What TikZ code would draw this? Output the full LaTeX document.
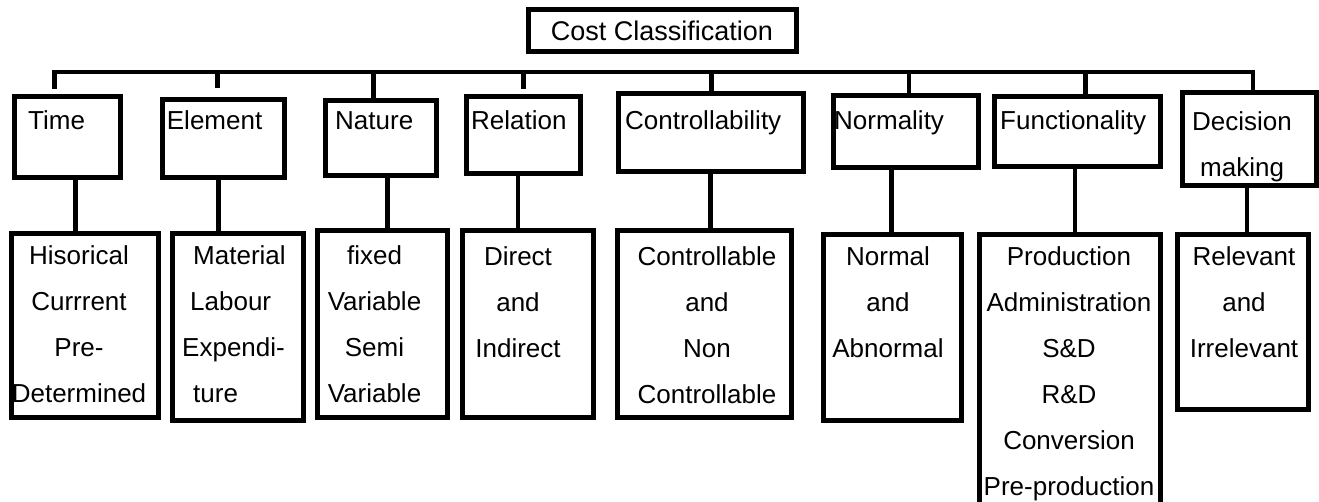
\documentclass[tikz,border=0pt]{standalone}
\usepackage{fontspec}
\setmainfont{Liberation Sans}
\usepackage{tikz}

\begin{document}
\begin{tikzpicture}[
  x=1pt, y=-1pt,
  box/.style={draw, line width=5pt, inner sep=0pt},
  link/.style={line width=4.5pt},
  txt/.style={font=\fontsize{26}{46}\selectfont, inner sep=0pt},
  head/.style={txt, anchor=base west},
  items/.style={txt, anchor=north, align=center}
]
  \useasboundingbox (0,0) rectangle (1319,502);

  % Root
  \node[box, font=\fontsize{27}{32}\selectfont, minimum width=268, minimum height=42] (cost) at (662,31) {Cost Classification};

  % Bases of classification
  \node[box, minimum width=106, minimum height=80.5] (time) at (67,137) {};
  \node[box, minimum width=121.5, minimum height=78] (element) at (223.3,139) {};
  \node[box, minimum width=111, minimum height=75] (nature) at (381,138.5) {};
  \node[box, minimum width=114, minimum height=77] (relation) at (523,135.5) {};
  \node[box, minimum width=185.5, minimum height=78.5] (control) at (710.8,132.3) {};
  \node[box, minimum width=144.5, minimum height=72] (normality) at (905.8,132) {};
  \node[box, minimum width=166, minimum height=70.5] (function) at (1077,131.3) {};
  \node[box, minimum width=134, minimum height=93] (decision) at (1249,139.5) {};

  \node[head] (time-lbl) at (28,130) {Time};
  \node[head] (element-lbl) at (166.7,130) {Element};
  \node[head] (nature-lbl) at (335,130) {Nature};
  \node[head] (relation-lbl) at (471,130) {Relation};
  \node[head] (control-lbl) at (625,130) {Controllability};
  \node[head] (normality-lbl) at (834,130) {Normality};
  \node[head] (function-lbl) at (1000,130) {Functionality};
  \node[txt, anchor=north west, align=left] (decision-lbl) at (1192,111) {Decision\\\hspace{8pt}making};

  % Types of cost
  \node[box, minimum width=147.5, minimum height=183] (time-sub) at (84.8,325.5) {};
  \node[box, minimum width=131, minimum height=186] (element-sub) at (237.5,327) {};
  \node[box, minimum width=130.5, minimum height=186] (nature-sub) at (382.3,324) {};
  \node[box, minimum width=131, minimum height=186] (relation-sub) at (527.5,324) {};
  \node[box, minimum width=174, minimum height=186] (control-sub) at (704,324) {};
  \node[box, minimum width=137.5, minimum height=185] (normality-sub) at (892.3,327.5) {};
  \node[box, minimum width=181, minimum height=271] (function-sub) at (1069.5,370.5) {};
  \node[box, minimum width=130.5, minimum height=174] (decision-sub) at (1242.8,322) {};

  \node[items] (time-items) at (79,245) {Hisorical\\Currrent\\Pre-\\Determined};
  \node[txt, anchor=north west, align=left] (element-items) at (182,245)
    {\hspace{11pt}Material\\\hspace{8pt}Labour\\Expendi-\\\hspace{11pt}ture};
  \node[items] (nature-items) at (374.5,245) {fixed\\Variable\\Semi\\Variable};
  \node[items] (relation-items) at (518,246) {Direct\\and\\Indirect};
  \node[items] (control-items) at (707,246) {Controllable\\and\\Non\\Controllable};
  \node[items] (normality-items) at (888,246) {Normal\\and\\Abnormal};
  \node[items] (function-items) at (1069,246)
    {Production\\Administration\\S\&D\\R\&D\\Conversion\\Pre-production};
  \node[items] (decision-items) at (1244,246) {Relevant\\and\\Irrelevant};

  % Bus
  \coordinate (b1) at (54.5,72);
  \coordinate (b2) at (217.5,72);
  \coordinate (b3) at (373.5,72);
  \coordinate (b4) at (523.3,72);
  \coordinate (b5) at (711.5,72);
  \coordinate (b6) at (909,72);
  \coordinate (b7) at (1085.5,72);
  \coordinate (b8) at (1253,72);

  \draw[link] (b1) ++(0,17) -- (b1) -- (b8) -- (b8 |- decision.north);
  \draw[link] (b2) -- ++(0,16);
  \draw[link] (b3) -- (b3 |- nature.north);
  \draw[link] (b4) -- ++(0,17);
  \draw[link] (b5) -- (b5 |- control.north);
  \draw[link] (b6) -- (b6 |- normality.north);
  \draw[link] (b7) -- (b7 |- function.north);

  % Links down to the types
  \draw[link] ([xshift=8.5]time.south) -- ([xshift=8.5]time.south |- time-sub.north);
  \draw[link] ([xshift=-4.6]element.south) -- ([xshift=-4.6]element.south |- element-sub.north);
  \draw[link] ([xshift=6.5]nature.south) -- ([xshift=6.5]nature.south |- nature-sub.north);
  \draw[link] ([xshift=-5]relation.south) -- ([xshift=-5]relation.south |- relation-sub.north);
  \draw[link] ([xshift=-0.5]control.south) -- ([xshift=-0.5]control.south |- control-sub.north);
  \draw[link] ([xshift=-14.3]normality.south) -- ([xshift=-14.3]normality.south |- normality-sub.north);
  \draw[link] ([xshift=-2]function.south) -- ([xshift=-2]function.south |- function-sub.north);
  \draw[link] ([xshift=-2]decision.south) -- ([xshift=-2]decision.south |- decision-sub.north);

\end{tikzpicture}
\end{document}
